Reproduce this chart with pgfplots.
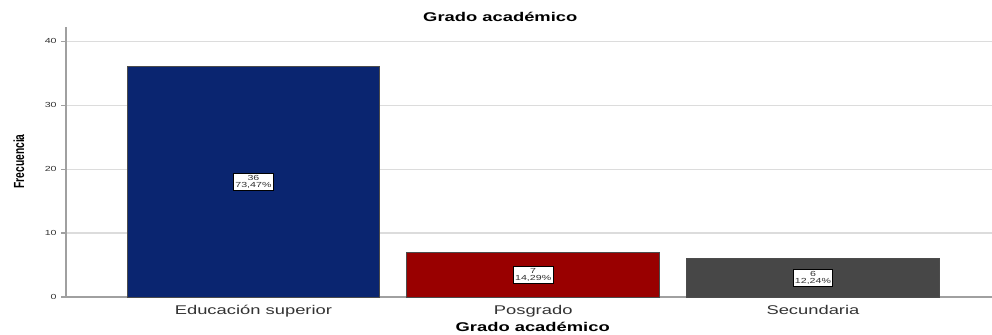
\documentclass[border=0pt]{standalone}
\usepackage{pgfplots}
\usepackage{fontspec}
\setmainfont{Liberation Sans}[FakeStretch=1.45]
\newfontfamily\narrowfont{Liberation Sans}[FakeStretch=0.7]
\pgfplotsset{compat=1.18}
\definecolor{barblue}{HTML}{0A2570}
\definecolor{barred}{HTML}{990000}
\definecolor{bargray}{HTML}{474747}
\definecolor{axgray}{HTML}{A0A0A0}
\definecolor{gridgray}{HTML}{DCDCDC}
\begin{document}
\begin{tikzpicture}
% canvas = 992x335 px at 0.75pt per px, axis box at (66,38) px from bottom left
\path[use as bounding box] (-49.5pt,-28.5pt) rectangle (694.5pt,222.75pt);
\begin{axis}[
    scale only axis,
    width=694.5pt, height=202.5pt,
    ybar, bar shift=0pt, bar width=0.904,
    xmin=-0.67, xmax=2.64,
    ymin=0, ymax=42.2,
    xtick={0,1,2},
    xticklabels={Educación superior, Posgrado, Secundaria},
    ytick={0,10,20,30,40},
    axis x line*=bottom, axis y line*=left,
    axis line style={axgray, line width=1.5pt, -},
    x axis line style={line width=0.8pt},
    major x tick style={draw=none},
    major y tick style={axgray, line width=0.8pt},
    tick align=outside, major tick length=3.5pt,
    ymajorgrids, grid style={gridgray, line width=0.8pt},
    x tick label style={font=\fontsize{9.5}{9.5}\selectfont, text=black!80, yshift=1pt},
    y tick label style={font=\fontsize{5.5}{5.5}\selectfont, text=black!80},
    /pgf/number format/assume math mode=true,
    xlabel={\bfseries Grado académico},
    xlabel style={font=\fontsize{9.5}{9.5}\selectfont, at={(0.504,-0.111)}, anchor=center},
    ylabel={\narrowfont\bfseries Frecuencia},
    ylabel style={font=\fontsize{11}{11}\selectfont, at={(-0.0508,0.502)}, anchor=center},
    every axis title shift=0pt,
    title={\bfseries Grado académico},
    title style={font=\fontsize{9.5}{9.5}\selectfont, at={(0.469,1.037)}, anchor=center},
    clip=false,
]
\addplot[fill=barblue, draw=black!70, line width=0.6pt] coordinates {(0,36)};
\addplot[fill=barred, draw=black!70, line width=0.6pt] coordinates {(1,7)};
\addplot[fill=bargray, draw=black!70, line width=0.6pt] coordinates {(2,6)};
% value labels at half bar height
\addplot[draw=none, fill=none, mark=none,
    nodes near coords,
    point meta=explicit symbolic,
    every node near coord/.style={anchor=center, fill=white, draw=black,
        line width=0.4pt, inner sep=1.3pt, align=center,
        font=\fontsize{5.5}{5.2}\selectfont, text=black!80}]
    coordinates {(0,18) [36\\73,47\%] (1,3.5) [7\\14,29\%] (2,3) [6\\12,24\%]};
\end{axis}
\end{tikzpicture}
\end{document}
